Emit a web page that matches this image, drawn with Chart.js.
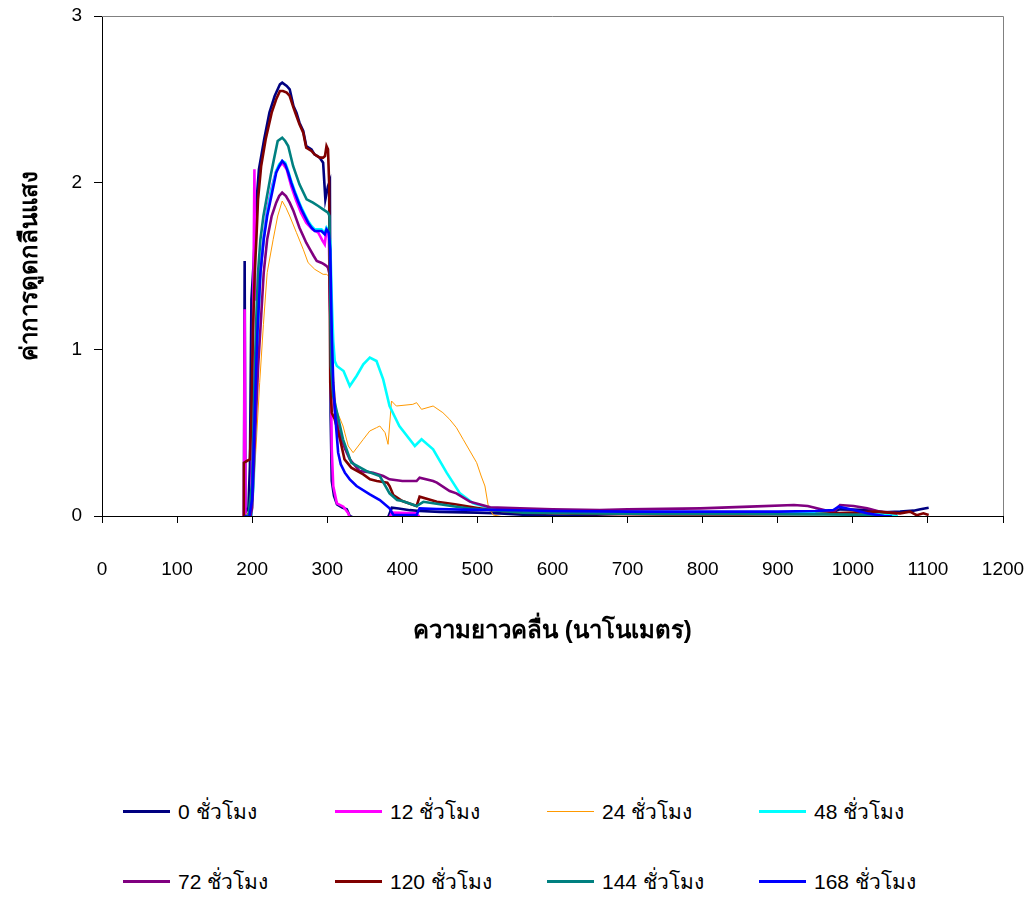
<!DOCTYPE html>
<html>
<head>
<meta charset="utf-8">
<script src="https://cdn.jsdelivr.net/npm/chart.js@4.4.1/dist/chart.umd.min.js"></script>
<style>
  body { margin: 0; background: #fff; }
  #wrap { position: relative; width: 1034px; height: 900px; font-family: 'Liberation Sans', Arial, sans-serif; }
  #chart { position: absolute; left: 0; top: 0; }
  .item { position: absolute; height: 30px; display: flex; align-items: center; font-size: 21px; font-weight: 400; color: #000; white-space: nowrap; }
  .swatch { width: 47px; height: 0; margin-right: 8px; }
</style>
</head>
<body>
<div id="wrap">
  <canvas id="chart" width="1034" height="680"></canvas>
  <div id="legend"></div>
</div>
<script>
// ความยาวคลื่น (nm) และค่าการดูดกลืนแสงของแต่ละชุด
const labels = ['0 ชั่วโมง', '12 ชั่วโมง', '24 ชั่วโมง', '48 ชั่วโมง', '72 ชั่วโมง', '120 ชั่วโมง', '144 ชั่วโมง', '168 ชั่วโมง'];
const colors = ['#000080', '#FF00FF', '#FF9900', '#00FFFF', '#800080', '#800000', '#008080', '#0000FF'];

const wl0  = [189, 190, 191, 195, 197, 199, 201.7, 203.4, 206, 209, 216, 223, 230, 237, 240, 246, 250, 255, 259, 263, 268, 272, 279, 283, 290, 294.5, 297.5, 301, 303.5, 304.5, 306, 309, 313, 320, 326, 330, 340, 360, 380, 386, 395, 410, 423, 450, 500, 530, 560, 619, 700, 800, 900, 974, 983, 1000, 1019, 1041, 1063, 1081, 1090, 1101];
const abs0 = [0, 1.53, 0.02, 0.05, 0.3, 1.3, 1.5, 1.66, 1.9, 2.08, 2.26, 2.42, 2.52, 2.59, 2.60, 2.58, 2.56, 2.46, 2.42, 2.36, 2.31, 2.22, 2.20, 2.17, 2.15, 2.12, 1.90, 1.98, 2.01, 0.6, 0.21, 0.12, 0.07, 0.05, 0.04, 0.0, -0.02, -0.02, -0.02, 0.05, 0.045, 0.035, 0.03, 0.025, 0.02, 0.016, 0.008, 0.0, 0.016, 0.016, 0.02, 0.026, 0.04, 0.038, 0.036, 0.022, 0.026, 0.032, 0.04, 0.05];

const wl12  = [189, 190, 191, 199, 201, 203, 204, 207, 211, 215, 220, 226, 232, 240, 246, 252, 258, 265, 272, 280, 288, 294, 296.7, 299, 302, 304, 306, 308, 312.8, 321.5, 328, 330, 340, 383, 386, 419, 423, 530];
const abs12 = [0, 1.24, 0, 0, 1.0, 2.08, 1.3, 1.3, 1.46, 1.66, 1.84, 1.97, 2.07, 2.12, 2.08, 1.98, 1.90, 1.82, 1.76, 1.72, 1.70, 1.65, 1.63, 1.72, 1.70, 1.2, 0.4, 0.18, 0.076, 0.056, 0.016, -0.01, -0.02, -0.01, 0.02, 0.016, -0.008, -0.008];

const wl24  = [190, 195, 200, 205, 210, 215, 220, 228, 234, 240, 245, 250, 259, 268, 274.5, 283.4, 294.5, 299, 302, 304, 306, 309, 312, 321, 328, 334.5, 348, 356.6, 365.6, 370, 377, 381, 385.6, 392, 414, 419, 425.6, 441, 454, 463, 472, 481, 490, 499, 505, 510, 514.6, 521, 540];
const abs24 = [0, 0.02, 0.02, 0.4, 0.8, 1.15, 1.46, 1.66, 1.8, 1.89, 1.85, 1.80, 1.70, 1.60, 1.52, 1.48, 1.45, 1.45, 1.44, 1.3, 1.0, 0.8, 0.64, 0.54, 0.42, 0.38, 0.46, 0.51, 0.53, 0.54, 0.50, 0.43, 0.69, 0.66, 0.67, 0.68, 0.64, 0.66, 0.62, 0.58, 0.53, 0.46, 0.39, 0.32, 0.24, 0.18, 0.056, 0.006, -0.01];

const wl48  = [190, 199, 202, 205, 208, 211, 215.4, 220, 225.6, 232, 236, 240, 244, 248, 252, 256.7, 261, 265.6, 270, 274.5, 279, 283.4, 292.3, 296.7, 299, 302, 304, 306, 308, 310, 312.8, 321.7, 330, 339, 348, 356.7, 365.6, 374.5, 383, 396, 416.7, 425.6, 441, 459, 476.7, 494.4, 516.7, 560, 650, 750, 850, 950, 1000, 1040, 1060];
const abs48 = [0, 0, 0.2, 0.7, 1.15, 1.47, 1.67, 1.82, 1.95, 2.07, 2.11, 2.13, 2.12, 2.07, 2.01, 1.95, 1.90, 1.85, 1.81, 1.77, 1.74, 1.72, 1.72, 1.70, 1.73, 1.71, 1.65, 1.3, 1.05, 0.93, 0.90, 0.87, 0.78, 0.84, 0.91, 0.95, 0.93, 0.82, 0.66, 0.54, 0.42, 0.46, 0.40, 0.26, 0.136, 0.076, 0.046, 0.03, 0.025, 0.02, 0.02, 0.018, 0.015, 0.01, 0.0];

const wl72  = [190, 198, 200, 204, 208, 212, 215.4, 220, 226, 232, 236, 240, 245, 250, 255, 259, 263, 268, 272, 277, 282, 286, 292, 296, 299, 301, 303, 305, 307, 310.5, 315, 319, 324, 330, 343, 361, 374.5, 383, 400, 419, 423, 441, 446, 463, 472, 490, 517, 557, 600, 663, 700, 797, 863, 921.5, 940, 952, 974, 983, 1001, 1019, 1036.5, 1059];
const abs72 = [0, 0, 0.05, 0.5, 0.9, 1.2, 1.46, 1.66, 1.8, 1.88, 1.92, 1.94, 1.92, 1.88, 1.83, 1.78, 1.73, 1.68, 1.64, 1.60, 1.56, 1.53, 1.52, 1.51, 1.50, 1.49, 1.45, 1.0, 0.8, 0.62, 0.52, 0.46, 0.40, 0.34, 0.27, 0.26, 0.24, 0.22, 0.21, 0.21, 0.23, 0.21, 0.20, 0.15, 0.136, 0.086, 0.052, 0.046, 0.04, 0.036, 0.04, 0.046, 0.056, 0.066, 0.06, 0.046, 0.022, 0.066, 0.06, 0.046, 0.026, 0.016];

const wl120  = [188, 189, 193, 197, 199, 201, 203.4, 205.6, 207.8, 212, 218, 226, 232, 237, 241, 246, 250, 255, 259, 263, 268, 272, 279, 283, 290, 294.5, 297, 299, 301, 302.5, 304, 306, 310, 317, 323, 332, 348, 357, 366, 380, 383, 388, 400, 419, 423, 446, 470, 490, 517, 560, 650, 750, 850, 950, 974, 1000, 1030, 1063, 1076, 1085, 1094, 1101];
const abs120 = [0, 0.32, 0.33, 0.34, 0.6, 1.1, 1.46, 1.66, 1.9, 2.1, 2.26, 2.42, 2.50, 2.55, 2.55, 2.54, 2.52, 2.45, 2.40, 2.35, 2.30, 2.21, 2.19, 2.17, 2.15, 2.15, 2.16, 2.22, 2.20, 2.0, 0.8, 0.62, 0.58, 0.46, 0.34, 0.29, 0.25, 0.22, 0.21, 0.20, 0.18, 0.126, 0.09, 0.06, 0.116, 0.086, 0.07, 0.056, 0.036, 0.02, 0.012, 0.01, 0.01, 0.012, 0.016, 0.02, 0.026, 0.016, 0.026, 0.005, 0.016, 0.006];

const wl144  = [189, 190, 195, 200, 203, 205.6, 207.8, 211, 215, 219, 225, 229, 234, 240, 244, 248, 254.5, 263, 272.5, 281, 288, 294.5, 301, 303, 305, 308, 312, 321, 332, 352, 370, 383, 393, 400, 419, 428, 450, 472, 490, 517, 560, 650, 750, 850, 950, 1000, 1040, 1059];
const abs144 = [0, -0.01, 0.0, 0.2, 0.8, 1.2, 1.46, 1.66, 1.8, 1.9, 2.05, 2.14, 2.25, 2.27, 2.25, 2.22, 2.10, 1.99, 1.90, 1.88, 1.86, 1.84, 1.82, 1.80, 0.9, 0.72, 0.64, 0.46, 0.32, 0.27, 0.24, 0.136, 0.096, 0.09, 0.06, 0.085, 0.07, 0.056, 0.045, 0.036, 0.02, 0.015, 0.012, 0.012, 0.01, 0.008, 0.0, -0.01];

const wl168  = [190, 196, 200, 204, 207, 211, 215.4, 220, 225.6, 232, 236, 240, 244, 248, 252, 256.7, 261, 265.6, 270, 274.5, 279, 283.4, 292.3, 296.7, 299, 302, 304, 306, 308, 311, 314.5, 318, 323.4, 330, 339, 356.7, 370, 383, 388, 400, 419, 423, 446, 480, 534, 600, 700, 797, 900, 950, 974, 981, 997, 1019, 1041, 1052];
const abs168 = [0, -0.01, 0.1, 0.7, 1.1, 1.46, 1.66, 1.8, 1.92, 2.06, 2.10, 2.13, 2.11, 2.06, 2.0, 1.94, 1.89, 1.84, 1.80, 1.76, 1.73, 1.71, 1.71, 1.69, 1.72, 1.70, 1.6, 1.1, 0.8, 0.58, 0.38, 0.31, 0.26, 0.22, 0.18, 0.13, 0.096, 0.046, 0.006, 0.006, 0.006, 0.046, 0.042, 0.038, 0.036, 0.03, 0.026, 0.026, 0.026, 0.03, 0.036, 0.056, 0.04, 0.016, 0.0, -0.003];

const xTicks = [0, 100, 200, 300, 400, 500, 600, 700, 800, 900, 1000, 1100, 1200];
const yTicks = [0, 1, 2, 3];

const wls = [wl0, wl12, wl24, wl48, wl72, wl120, wl144, wl168];
const absVals = [abs0, abs12, abs24, abs48, abs72, abs120, abs144, abs168];

const FONT = "'Liberation Sans', Arial, sans-serif";

// กรอบสีเทาด้านบนและด้านขวาของพื้นที่กราฟ
const plotFrame = {
  id: 'plotFrame',
  beforeDatasetsDraw(chart) {
    const { ctx, chartArea: a } = chart;
    ctx.save();
    ctx.strokeStyle = '#808080';
    ctx.lineWidth = 1;
    ctx.beginPath();
    ctx.moveTo(a.left, Math.round(a.top) + 0.5);
    ctx.lineTo(Math.round(a.right) + 0.5, Math.round(a.top) + 0.5);
    ctx.lineTo(Math.round(a.right) + 0.5, a.bottom);
    ctx.stroke();
    ctx.restore();
  }
};

const datasets = labels.map((label, i) => ({
  label: label,
  data: wls[i].map((w, j) => ({ x: w, y: absVals[i][j] })),
  borderColor: colors[i],
  borderWidth: i === 2 ? 1 : 2.6,
  pointRadius: 0,
  tension: 0,
  fill: false,
  order: labels.length - i
}));

new Chart(document.getElementById('chart'), {
  type: 'line',
  data: { datasets },
  options: {
    responsive: false,
    animation: false,
    layout: { padding: { top: 16, right: 31, left: 0, bottom: 24 } },
    plugins: { legend: { display: false }, tooltip: { enabled: false } },
    scales: {
      x: {
        type: 'linear', min: 0, max: 1200,
        afterBuildTicks: s => { s.ticks = xTicks.map(v => ({ value: v })); },
        afterFit: s => { s.height = 140; s.paddingLeft = 0; s.paddingRight = 0; },
        ticks: { color: '#000', font: { family: FONT, size: 19 }, padding: 35, maxRotation: 0, callback: v => String(v) },
        grid: { drawOnChartArea: false, tickLength: 7, color: '#000' },
        border: { color: '#000' },
        title: { display: true, text: 'ความยาวคลื่น (นาโนเมตร)', color: '#000', font: { family: FONT, size: 24, weight: 'bold' }, padding: { top: 0, bottom: 10 } }
      },
      y: {
        min: 0, max: 3,
        afterBuildTicks: s => { s.ticks = yTicks.map(v => ({ value: v })); },
        afterFit: s => { s.width = 102; s.paddingTop = 0; s.paddingBottom = 0; },
        ticks: { color: '#000', font: { family: FONT, size: 19 }, padding: 12, callback: v => String(v) },
        grid: { drawOnChartArea: false, tickLength: 8, color: '#000' },
        border: { color: '#000' },
        title: { display: true, text: 'ค่าการดูดกลืนแสง', color: '#000', font: { family: FONT, size: 24, weight: 'bold' }, padding: { top: 16, bottom: 0 } }
      }
    }
  },
  plugins: [plotFrame]
});

// คำอธิบายสัญลักษณ์ 2 แถว แถวละ 4 รายการ
const legend = document.getElementById('legend');
labels.forEach((label, i) => {
  const item = document.createElement('div');
  item.className = 'item';
  item.style.left = (123 + (i % 4) * 212) + 'px';
  item.style.top = (i < 4 ? 796 : 866) + 'px';
  const sw = document.createElement('span');
  sw.className = 'swatch';
  sw.style.borderTop = (i === 2 ? 1 : 3) + 'px solid ' + colors[i];
  const tx = document.createElement('span');
  tx.textContent = label;
  item.appendChild(sw);
  item.appendChild(tx);
  legend.appendChild(item);
});
</script>
</body>
</html>
